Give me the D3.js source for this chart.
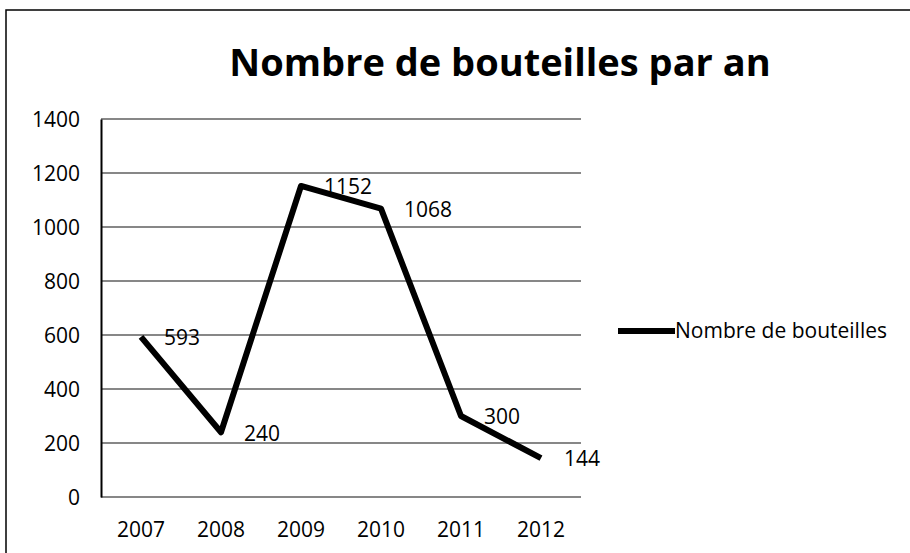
<!DOCTYPE html>
<html>
<head>
<meta charset="utf-8">
<script src="https://cdn.jsdelivr.net/npm/d3@7"></script>
<style>
  body { margin: 0; background: #fff; }
  text { font-family: "Open Sans", Lato, sans-serif; fill: #000; }
</style>
</head>
<body>
<div id="here"></div>
<script>
var w = 910, h = 553;

var years = ['2007', '2008', '2009', '2010', '2011', '2012'];
var bottles = [593, 240, 1152, 1068, 300, 144];
var yTicks = [0, 200, 400, 600, 800, 1000, 1200, 1400];

var margin = {left: 101, right: 329, top: 119, bottom: 56};

var svg = d3.select('#here').append('svg')
  .attr('width', w)
  .attr('height', h);

// frame of the chart area (right and bottom edges fall outside the picture)
svg.append('rect')
  .attr('x', 6).attr('y', 10)
  .attr('width', w + 20).attr('height', h + 20)
  .attr('fill', 'none')
  .attr('stroke', '#000')
  .attr('stroke-width', 1.5);

svg.append('text')
  .attr('x', 500).attr('y', 76)
  .attr('text-anchor', 'middle')
  .style('font-size', '38px')
  .style('font-weight', 'bold')
  .text('Nombre de bouteilles par an');

var x = d3.scaleBand()
  .domain(years)
  .range([margin.left, w - margin.right]);

var y = d3.scaleLinear()
  .domain([0, 1400])
  .range([h - margin.bottom, margin.top]);

// gridlines
svg.append('g')
  .selectAll('line')
  .data(yTicks)
  .enter().append('line')
  .attr('x1', margin.left).attr('x2', w - margin.right)
  .attr('y1', function(d) { return y(d); })
  .attr('y2', function(d) { return y(d); })
  .attr('stroke', '#111')
  .attr('stroke-width', 1.2);

var yAxis = svg.append('g')
  .attr('transform', 'translate(' + margin.left + ',0)')
  .call(d3.axisLeft(y).tickValues(yTicks).tickFormat(d3.format('d')).tickSize(0).tickPadding(21));
yAxis.select('.domain').attr('stroke', '#000').attr('stroke-width', 2);
yAxis.selectAll('text').style('font-size', '21px').attr('dy', '0.35em');

var xAxis = svg.append('g')
  .attr('transform', 'translate(0,' + (h - margin.bottom) + ')')
  .call(d3.axisBottom(x).tickSize(0).tickPadding(25));
xAxis.select('.domain').remove();
xAxis.selectAll('text').style('font-size', '21px').attr('dy', '0.71em');

var line = d3.line()
  .x(function(d, i) { return x(years[i]) + x.bandwidth() / 2; })
  .y(function(d) { return y(d); });

svg.append('path')
  .datum(bottles)
  .attr('d', line)
  .attr('fill', 'none')
  .attr('stroke', '#000')
  .attr('stroke-width', 6)
  .attr('stroke-linejoin', 'round');

svg.append('g')
  .selectAll('text')
  .data(bottles)
  .enter().append('text')
  .attr('x', function(d, i) { return x(years[i]) + x.bandwidth() / 2 + 23; })
  .attr('y', function(d) { return y(d) + 1; })
  .attr('dy', '0.35em')
  .style('font-size', '21px')
  .text(function(d) { return d; });

// legend
var legend = svg.append('g');
legend.append('line')
  .attr('x1', 618).attr('x2', 675)
  .attr('y1', 331).attr('y2', 331)
  .attr('stroke', '#000')
  .attr('stroke-width', 6);
legend.append('text')
  .attr('x', 675).attr('y', 331)
  .attr('dy', '0.35em')
  .style('font-size', '21px')
  .text('Nombre de bouteilles');
</script>
</body>
</html>
